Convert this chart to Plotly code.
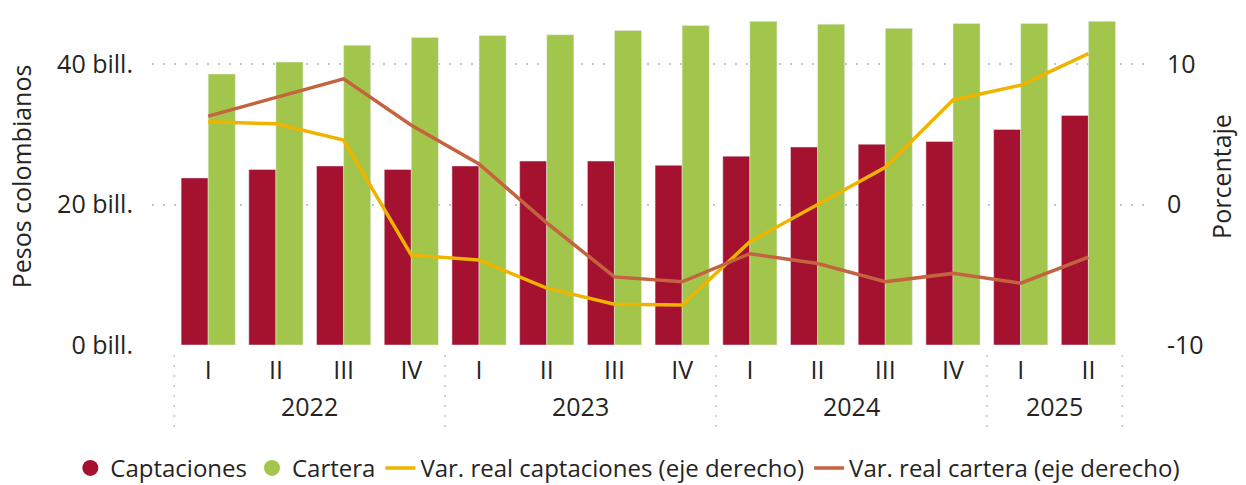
import plotly.graph_objects as go

quarters = ["I", "II", "III", "IV", "I", "II", "III", "IV", "I", "II", "III", "IV", "I", "II"]
years = ["2022", "2023", "2024", "2025"]
year_counts = [4, 4, 4, 2]

captaciones = [23.8, 25.0, 25.5, 25.0, 25.5, 26.2, 26.2, 25.6, 26.9, 28.2, 28.6, 29.0, 30.7, 32.7]
cartera = [38.6, 40.3, 42.7, 43.8, 44.1, 44.2, 44.8, 45.5, 46.1, 45.7, 45.1, 45.8, 45.8, 46.1]
var_captaciones = [5.9, 5.75, 4.6, -3.6, -3.95, -5.95, -7.1, -7.15, -2.65, 0.0, 2.65, 7.45, 8.5, 10.75]
var_cartera = [6.3, 7.6, 8.95, 5.65, 2.9, -1.3, -5.15, -5.5, -3.5, -4.2, -5.5, -4.9, -5.6, -3.75]

left_ticks = [0, 20, 40]
left_ticktext = ["0 bill.", "20 bill.", "40 bill."]
right_ticks = [-10, 0, 10]
right_ticktext = ["-10", "0", "10"]

RED = "#A51230"
GREEN = "#A2C64B"
YELLOW = "#EEB400"
BROWN = "#C4633F"
TXT = "#252423"
FONT = "Open Sans"
FS = 25

xs = list(range(len(quarters)))

fig = go.Figure()
fig.add_trace(go.Bar(x=xs, y=captaciones, name="Captaciones", marker_color=RED,
                     showlegend=False, yaxis="y"))
fig.add_trace(go.Bar(x=xs, y=cartera, name="Cartera", marker_color=GREEN,
                     showlegend=False, yaxis="y"))
# legend entries with circle symbols
fig.add_trace(go.Scatter(x=[None], y=[None], mode="markers", name="Captaciones",
                         marker=dict(symbol="circle", size=20, color=RED)))
fig.add_trace(go.Scatter(x=[None], y=[None], mode="markers", name="Cartera",
                         marker=dict(symbol="circle", size=20, color=GREEN)))
fig.add_trace(go.Scatter(x=xs, y=var_captaciones, mode="lines",
                         name="Var. real captaciones (eje derecho)",
                         line=dict(color=YELLOW, width=3.5), yaxis="y2"))
fig.add_trace(go.Scatter(x=xs, y=var_cartera, mode="lines",
                         name="Var. real cartera (eje derecho)",
                         line=dict(color=BROWN, width=3.5), yaxis="y2"))

# year labels and dotted group dividers
annotations = []
shapes = []
start = 0
bounds = [-0.5]
for yr, n in zip(years, year_counts):
    center = start + (n - 1) / 2
    annotations.append(dict(x=center, y=-0.181, xref="x", yref="paper", text=yr,
                            showarrow=False, font=dict(size=FS, color=TXT, family=FONT),
                            yanchor="middle"))
    start += n
    bounds.append(start - 0.5)
for b in bounds:
    shapes.append(dict(type="line", xref="x", yref="paper", x0=b, x1=b,
                       y0=-0.03, y1=-0.245,
                       line=dict(color="#C4C4C4", width=1.5, dash="2px,8px")))

fig.update_layout(
    width=1246, height=485,
    margin=dict(l=152, r=98, t=8, b=140, autoexpand=False),
    paper_bgcolor="white", plot_bgcolor="white",
    barmode="group", bargap=0.2, bargroupgap=0,
    font=dict(family=FONT, size=FS, color=TXT),
    xaxis=dict(range=[-0.83, 13.88], tickmode="array", tickvals=xs, ticktext=quarters,
               showgrid=False, zeroline=False, showline=False, ticks="", tickangle=0,
               automargin=False,
               ticklabelstandoff=8, tickfont=dict(size=FS, color=TXT)),
    yaxis=dict(range=[0, 48], tickmode="array", tickvals=left_ticks, ticktext=left_ticktext,
               showgrid=True, gridcolor="#C4C4C4", gridwidth=1.5, griddash="2px,9px",
               zeroline=False, showline=False, ticks="", ticklabelstandoff=18,
               automargin=False,
               title=dict(text="Pesos colombianos", standoff=18, font=dict(size=FS, color=TXT)),
               tickfont=dict(size=FS, color=TXT)),
    yaxis2=dict(range=[-10, 14], overlaying="y", side="right", tickmode="array",
                tickvals=right_ticks, ticktext=right_ticktext,
                showgrid=False, zeroline=False, showline=False,
                ticks="", ticklabelstandoff=18, automargin=False,
                title=dict(text="Porcentaje", standoff=10, font=dict(size=FS, color=TXT)),
                tickfont=dict(size=FS, color=TXT)),
    legend=dict(orientation="h", x=-0.082, xanchor="left",
                y=-0.366, yanchor="middle", font=dict(size=24, color=TXT),
                itemsizing="trace", itemwidth=30, tracegroupgap=0, bgcolor="rgba(0,0,0,0)"),
    annotations=annotations,
    shapes=shapes,
)

fig.write_html("out.html", post_script="document.body.style.margin='0';",
               config={"displayModeBar": False})
